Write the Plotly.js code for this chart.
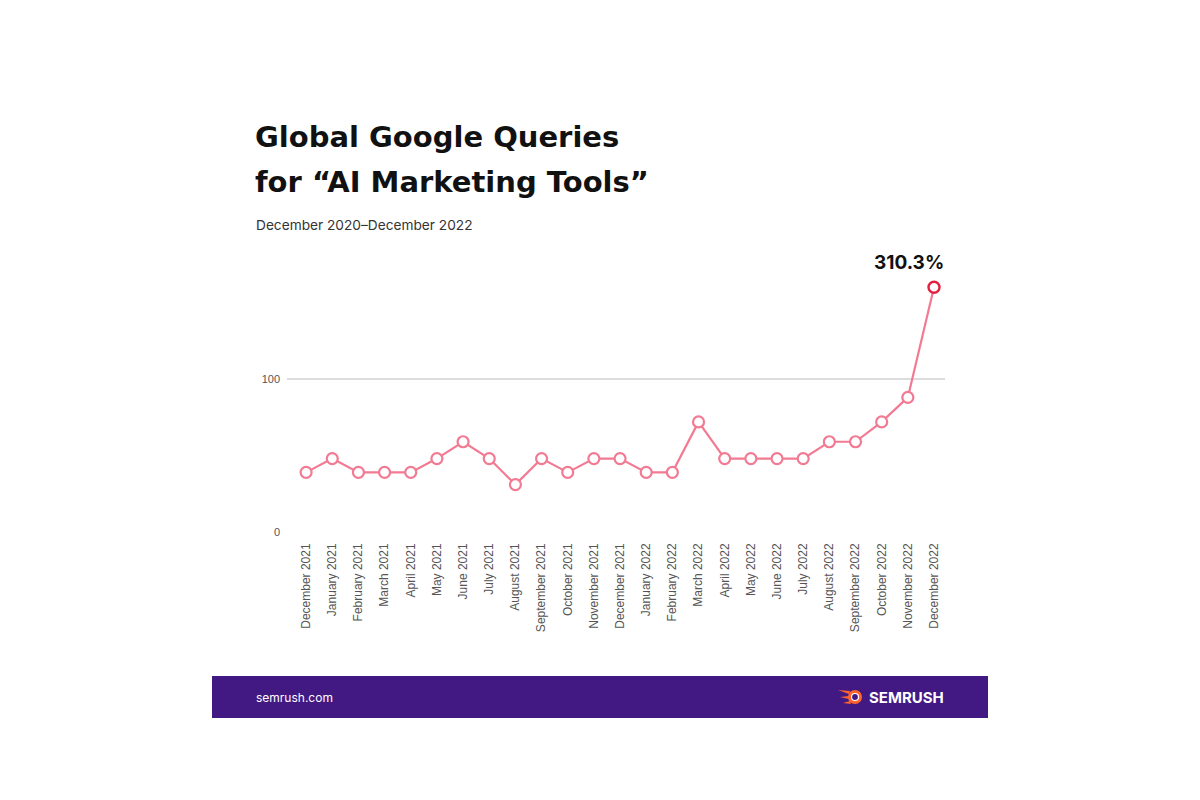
<!DOCTYPE html>
<html>
<head>
<meta charset="utf-8">
<script src="https://cdn.plot.ly/plotly-3.0.1.min.js"></script>
<style>html,body{margin:0;padding:0;background:#fff;}#chart{width:1200px;height:800px;}</style>
</head>
<body>
<div id="chart"></div>
<script>
const months = ["December 2021","January 2021","February 2021","March 2021","April 2021","May 2021","June 2021","July 2021","August 2021","September 2021","October 2021","November 2021","December 2021","January 2022","February 2022","March 2022","April 2022","May 2022","June 2022","July 2022","August 2022","September 2022","October 2022","November 2022","December 2022"];
const queries = [39,48,39,39,39,48,59,48,31,48,39,48,48,39,39,72,48,48,48,48,59,59,72,88,160];
const growthLabel = "310.3%";
const yTicks = [0,100];

const idx = months.map((_, i) => i);
const last = queries.length - 1;
const pink = "#f27a92";
const red = "#e5203f";
const titleFont = "DejaVu Sans, Inter, sans-serif";

// plot area in px: left 287, right 945, top 272, bottom 532
const PL = 287, PR = 945, PT = 272, PB = 532;
const px = x => (x - PL) / (PR - PL);
const py = y => (PB - y) / (PB - PT);

const traces = [
  {
    x: idx, y: queries, type: "scatter", mode: "lines",
    line: {color: pink, width: 2.2}, hoverinfo: "skip", showlegend: false
  },
  {
    x: idx.slice(0, last), y: queries.slice(0, last), type: "scatter", mode: "markers",
    marker: {size: 11, color: "#ffffff", line: {color: pink, width: 2.2}},
    showlegend: false
  },
  {
    x: [idx[last]], y: [queries[last]], type: "scatter", mode: "markers",
    marker: {size: 11, color: "#ffffff", line: {color: red, width: 2.4}},
    showlegend: false
  }
];

const layout = {
  width: 1200, height: 800,
  margin: {l: PL, r: 1200 - PR, t: PT, b: 800 - PB},
  paper_bgcolor: "#ffffff", plot_bgcolor: "#ffffff",
  font: {family: "Liberation Sans, Arial, sans-serif", color: "#555"},
  xaxis: {
    range: [-0.73, 24.42], tickvals: idx, ticktext: months, tickangle: -90,
    showgrid: false, zeroline: false, showline: false, ticks: "",
    ticklabelstandoff: 8,
    tickfont: {size: 12, color: "#555", family: "Liberation Sans, Arial, sans-serif"}
  },
  yaxis: {
    range: [0, 170], tickvals: yTicks, ticktext: yTicks.map(String),
    showgrid: true, gridcolor: "#dcdcdc", gridwidth: 1.2, zeroline: false, showline: false,
    ticks: "", ticklabelstandoff: 6,
    tickfont: {size: 11, color: "#555", family: "Liberation Sans, Arial, sans-serif"}
  },
  shapes: [
    {type: "rect", xref: "paper", yref: "paper", x0: px(212), x1: px(988), y0: py(718), y1: py(676),
     fillcolor: "#421983", line: {width: 0}, layer: "below"}
  ],
  annotations: [
    {xref: "paper", yref: "paper", x: px(253), y: py(137), xanchor: "left", yanchor: "middle",
     text: "<b>Global Google Queries</b>", showarrow: false,
     font: {family: titleFont, size: 29, color: "#111"}},
    {xref: "paper", yref: "paper", x: px(253), y: py(182), xanchor: "left", yanchor: "middle",
     text: "<b>for “AI Marketing Tools”</b>", showarrow: false,
     font: {family: titleFont, size: 29, color: "#111"}},
    {xref: "paper", yref: "paper", x: px(254), y: py(225), xanchor: "left", yanchor: "middle",
     text: "December 2020–December 2022", showarrow: false,
     font: {family: "Inter, Noto Sans, sans-serif", size: 13.7, color: "#333"}},
    {xref: "x", yref: "y", x: idx[last], y: queries[last], xanchor: "right", yanchor: "bottom",
     xshift: 12, yshift: 11, text: "<b>" + growthLabel + "</b>", showarrow: false,
     font: {family: "Inter, Noto Sans, sans-serif", size: 19, color: "#111"}},
    {xref: "paper", yref: "paper", x: px(254), y: py(697), xanchor: "left", yanchor: "middle",
     text: "semrush.com", showarrow: false,
     font: {family: "Inter, Noto Sans, sans-serif", size: 12, color: "#ffffff"}},
    {xref: "paper", yref: "paper", x: px(946), y: py(697), xanchor: "right", yanchor: "middle",
     text: "<b>SEMRUSH</b>", showarrow: false,
     font: {family: "Inter, Noto Sans, sans-serif", size: 15, color: "#ffffff"}}
  ]
};

// Semrush-like flame icon built from paper coords
(function(){
  const cx = 855, cy = 697;
  const P = (x, y) => px(x).toFixed(5) + "," + py(y).toFixed(5);
  layout.shapes.push({type: "circle", xref: "paper", yref: "paper",
    x0: px(cx - 7), x1: px(cx + 7), y0: py(cy + 7), y1: py(cy - 7),
    fillcolor: "#ff642d", line: {width: 0}});
  layout.shapes.push({type: "circle", xref: "paper", yref: "paper",
    x0: px(cx - 3.5), x1: px(cx + 3.5), y0: py(cy + 3.5), y1: py(cy - 3.5),
    fillcolor: "#421983", line: {color: "#ffffff", width: 1.2}});
  layout.shapes.push({type: "path", xref: "paper", yref: "paper",
    path: "M" + P(838, 690) + " L" + P(850, 691) + " L" + P(849, 694) + " Z",
    fillcolor: "#ff642d", line: {width: 0}});
  layout.shapes.push({type: "path", xref: "paper", yref: "paper",
    path: "M" + P(840, 697) + " L" + P(849, 696) + " L" + P(849, 699) + " Z",
    fillcolor: "#ff642d", line: {width: 0}});
  layout.shapes.push({type: "path", xref: "paper", yref: "paper",
    path: "M" + P(843, 703) + " L" + P(850, 701) + " L" + P(851, 704) + " Z",
    fillcolor: "#ff642d", line: {width: 0}});
})();

Plotly.newPlot("chart", traces, layout, {displayModeBar: false, staticPlot: true});
</script>
</body>
</html>
